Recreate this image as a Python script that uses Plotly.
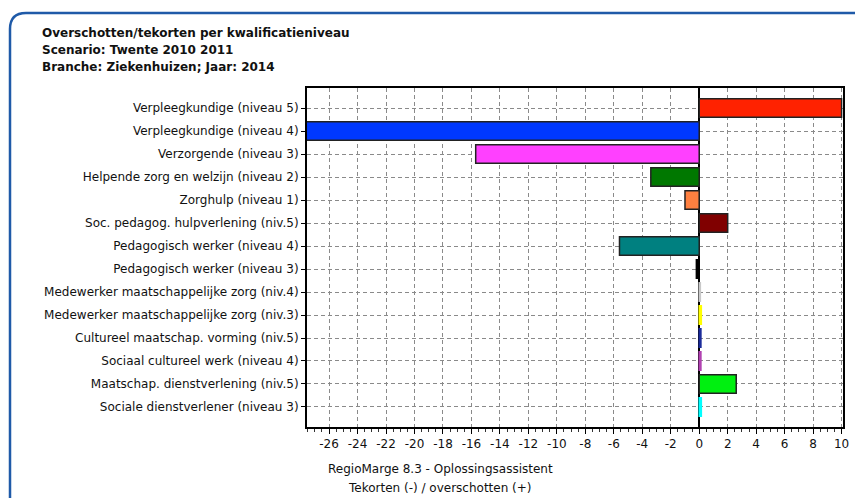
import plotly.graph_objects as go

# kwalificatieniveaus, van boven naar beneden
categories = [
    "Verpleegkundige (niveau 5)",
    "Verpleegkundige (niveau 4)",
    "Verzorgende (niveau 3)",
    "Helpende zorg en welzijn (niveau 2)",
    "Zorghulp (niveau 1)",
    "Soc. pedagog. hulpverlening (niv.5)",
    "Pedagogisch werker (niveau 4)",
    "Pedagogisch werker (niveau 3)",
    "Medewerker maatschappelijke zorg (niv.4)",
    "Medewerker maatschappelijke zorg (niv.3)",
    "Cultureel maatschap. vorming (niv.5)",
    "Sociaal cultureel werk (niveau 4)",
    "Maatschap. dienstverlening (niv.5)",
    "Sociale dienstverlener (niveau 3)",
]
values = [10.0, -27.6, -15.7, -3.4, -1.0, 2.0, -5.6, -0.2, 0.08, 0.15, 0.12, 0.12, 2.6, 0.15]
bar_colors = [
    "#ff2200", "#0038ff", "#ff40ff", "#007800", "#ff8040", "#800000", "#008080",
    "#000000", "#c8c8c8", "#ffff00", "#1a2a9a", "#b040b0", "#00f010", "#00ffff",
]
x_ticks = list(range(-26, 11, 2))
x_ticktext = [str(v) for v in x_ticks]  # gewone koppeltekens, geen unicode-min

title_lines = [
    "Overschotten/tekorten per kwalificatieniveau",
    "Scenario: Twente 2010 2011",
    "Branche: Ziekenhuizen; Jaar: 2014",
]
footer_lines = ["RegioMarge 8.3 - Oplossingsassistent", "Tekorten (-) / overschotten (+)"]

# de pagina zet de figuur 8px naar rechts/onder; alles in schermpixels hieronder
OFF = 8
W, H = 863 - OFF, 498 - OFF
L, R, T, B = 307 - OFF, 863 - 843, 88 - OFF, 498 - 427
pw, ph = W - L - R, H - T - B


def px(x):
    return (x - OFF - L) / pw


def py(y):
    return (H - B - (y - OFF)) / ph


# heel smalle balken zonder donkere rand, zodat de kleur zichtbaar blijft
outline = [c if abs(v) < 0.5 else "#222222" for v, c in zip(values, bar_colors)]

fig = go.Figure(
    go.Bar(
        x=values,
        y=categories,
        orientation="h",
        width=0.8,
        marker=dict(color=bar_colors, line=dict(color=outline, width=1.5)),
    )
)

font = "DejaVu Sans, Verdana, sans-serif"
grid = dict(showgrid=True, gridcolor="#8a8a8a", griddash="4px,3px", gridwidth=1)
fig.update_layout(
    width=W,
    height=H,
    margin=dict(l=L, r=R, t=T, b=B),
    paper_bgcolor="white",
    plot_bgcolor="white",
    showlegend=False,
    font=dict(family=font, size=12, color="#111111"),
    xaxis=dict(
        range=[-27.55, 10.1],
        tickvals=x_ticks,
        ticktext=x_ticktext,
        ticks="outside",
        ticklen=5,
        tickcolor="black",
        zeroline=True,
        zerolinecolor="black",
        zerolinewidth=2,
        showline=True,
        linecolor="black",
        linewidth=2,
        mirror=True,
        minor=dict(dtick=0.5, ticks="outside", ticklen=3, tickcolor="#333333"),
        tickfont=dict(size=12),
        **grid,
    ),
    yaxis=dict(
        range=[13.87, -0.87],
        ticks="outside",
        ticklen=4,
        tickcolor="black",
        showline=True,
        linecolor="black",
        linewidth=2,
        mirror=True,
        tickfont=dict(size=12),
        **grid,
    ),
)

# afgeronde blauwe rand om het geheel
x0, y0, x1, y1, r = px(10), py(13), px(880), py(510), 16
path = (
    f"M {x0},{y1} L {x0},{py(13 + r)} "
    f"Q {x0},{y0} {px(10 + r)},{y0} L {x1},{y0}"
)
fig.add_shape(type="path", path=path, xref="paper", yref="paper",
              line=dict(color="#1f5aa8", width=2.5))

for i, line in enumerate(title_lines):
    fig.add_annotation(text=f"<b>{line}</b>", x=px(40), y=py(33 + 17 * i),
                       xref="paper", yref="paper", xanchor="left", yanchor="middle",
                       showarrow=False, font=dict(size=12, color="#111111"))

for i, line in enumerate(footer_lines):
    fig.add_annotation(text=line, x=px(440), y=py(469 + 19 * i),
                       xref="paper", yref="paper", xanchor="center", yanchor="middle",
                       showarrow=False, font=dict(size=12, color="#111111"))

fig.write_html("out.html")
